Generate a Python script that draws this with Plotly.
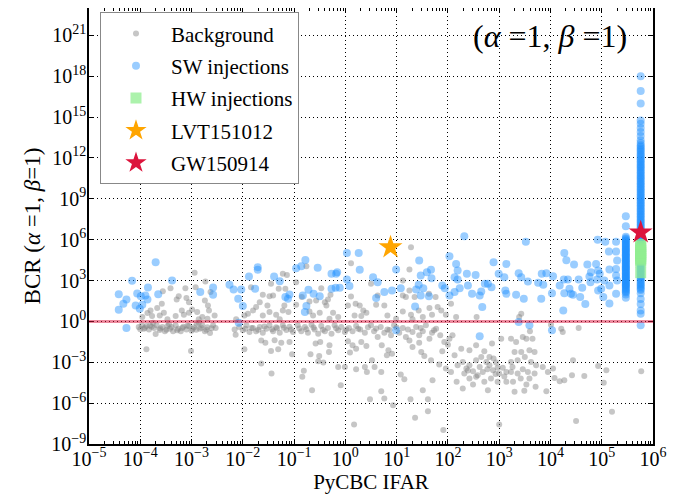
import numpy as np
import plotly.graph_objects as go

# ---------------- data (log10 values) ----------------
BG_LOG_IFAR = [
    -2.94, -3.12, -3.41, -3.56, -2.92, -2.73, -3.25, -3.29, -3.10, -2.63, -2.74, -2.68, -3.05, -3.58, -3.80,
    -3.86, -3.67, -3.62, -3.54, -3.47, -3.77, -3.19, -3.15, -3.05, -2.99, -2.89, -2.66, -2.55, -2.79, -2.86,
    -2.69, -3.31, -3.96,
    -4.03, -3.97, -3.93, -3.88, -3.83, -3.78, -3.73, -3.68, -3.62, -3.57, -3.52, -3.47, -3.42, -3.36, -3.31,
    -3.26, -3.21, -3.16, -3.10, -3.05, -3.00, -2.95, -2.90, -2.84, -2.79, -2.74, -2.69, -2.64, -2.58, -2.53,
    -3.70, -3.88, -3.01, -3.44, -3.75, -2.86,
    -4.00, -3.91, -3.81, -3.61, -3.49, -3.39, -3.28, -3.18, -3.08, -2.98, -2.91, -2.81, -2.71, -2.61,
    -1.84, -1.61, -1.45, -1.22, -1.14, -1.30, -1.17, -1.41, -1.48, -1.67, -1.52, -1.74, -1.90, -1.97, -1.80,
    -1.61, -1.48, -1.35, -1.22, -1.11, -1.19, -1.28, -2.13, -2.16, -2.14,
    -2.07, -2.00, -1.93, -1.87, -1.80, -1.74, -1.67, -1.61, -1.54, -1.48, -1.41, -1.35, -1.28, -1.22, -1.15,
    -1.09, -1.02, -1.64, -1.56, -1.97, -1.45, -1.38, -1.25, -1.09, -1.31, -1.04, -1.64, -1.44,
    -1.95, -1.83, -1.70, -1.58, -1.43, -1.33, -1.20, -1.06,
    -0.96, -0.76, -0.85, -0.96, -0.70, -0.57, -0.47, -0.40, -0.37, -0.34, -0.29, -0.50, -0.63, -0.70, -0.24,
    -0.14, -0.31, 0.05, 0.11, 0.20, 0.28, 0.35, 0.18, 0.31, 0.41, 0.11,
    -0.93, -0.86, -0.79, -0.73, -0.66, -0.60, -0.53, -0.47, -0.40, -0.34, -0.27, -0.21, -0.14, -0.08, -0.01,
    0.07, 0.14, 0.21, 0.29, 0.38, 0.44,
    -0.90, -0.76, -0.62, -0.44, -0.18, 0.02, 0.25,
    0.05, 0.14, 0.09, 0.21, 0.31, 0.41, -0.31, -0.58, -0.68, -0.51, -0.53, -0.43, -0.81, -0.84, -0.65,
    -0.32, -0.14, -0.09, -0.01, 0.21, 0.38, 0.42, 0.48, 0.17, -0.49,
    1.28, 1.25, 1.12, 0.50, 0.63, 0.76, 0.60, 1.12, 1.18, 1.25, 1.35, 1.63, 1.76, 1.80, 1.64,
    1.87, 1.96, 2.06, 1.43, 1.12, 1.28, 1.51, 1.31, 0.82, 0.99, 1.69, 2.16, 2.56,
    0.50, 0.56, 0.63, 0.69, 0.76, 0.82, 0.89, 0.95, 1.05, 1.12, 1.18, 1.25, 1.31, 1.38, 1.44,
    1.51, 1.57, 1.64, 1.69, 1.77, 1.85, 1.93, 2.03, 2.09,
    0.60, 0.86, 1.00, 1.22, 1.47, 1.73,
    1.44, 1.31, 1.48, 1.54, 1.67, 1.83, 1.89, 2.00, 0.84, 0.71, 0.81, 0.91, 0.52, 0.57, 0.70,
    1.08, 1.15, 1.70, 1.51, 1.96, 0.70, 0.76, 1.27, 1.61, 0.93, 1.61, 1.36, 1.91,
    2.19, 2.29, 2.36, 2.42, 2.49, 2.55, 2.62, 2.68, 2.75, 2.81, 2.88, 2.94, 3.00, 3.07, 3.14,
    2.32, 2.42, 2.55, 2.71, 2.84, 2.97, 2.26, 2.42, 2.55, 2.71, 2.86, 3.04, 2.81, 2.13, 2.06,
    2.17, 2.29, 2.49, 2.78, 3.00, 3.14, 2.89, 2.97, 2.65,
    2.39, 2.58, 2.77, 2.93, 3.10,
    3.43, 3.39, 3.60, 3.46, 3.53, 3.65, 3.33, 3.23, 3.30, 3.43, 3.59, 3.69, 3.50, 3.36, 3.23,
    3.62, 3.72, 3.85, 3.26, 3.46, 3.56, 3.69, 3.36, 3.23, 3.42, 3.59, 3.27, 3.53, 3.71, 3.30,
    3.49, 3.92, 3.95, 4.01, 4.21, 4.24, 4.55, 4.44, 4.05, 4.08, 4.18, 4.27, 4.42, 4.66, 4.93,
    5.09, 5.04, 5.20, 4.50, 5.77,
]
BG_LOG_BCR = [
    3.56, 2.44, 2.44, 2.22, 2.51, 2.93, 1.85, 1.61, 1.71, 2.15, 1.54, 1.17, 1.41, 1.29, 0.80,
    0.61, 0.98, 0.44, 0.63, 0.15, 0.39, 0.80, 0.49, 0.63, 0.88, 0.68, 0.80, 0.44, 0.32, 0.15,
    0.20, 0.39, 0.32,
    -0.41, -0.29, -0.54, -0.34, -0.59, -0.39, -0.49, -0.29, -0.63, -0.41, -0.73, -0.34, -0.54, -0.73, -0.29,
    -0.54, -0.73, -0.39, -0.59, -0.34, -0.68, -0.44, -0.20, -0.54, -0.29, -0.73, -0.44, -0.85, -0.29, -0.49,
    -0.93, -2.05, -2.17, -0.20, -0.10, -0.10,
    -0.57, -0.46, -0.31, -0.52, -0.61, -0.42, -0.66, -0.48, -0.33, -0.56, -0.62, -0.46, -0.61, -0.51,
    2.51, 1.95, 2.76, 3.49, 3.41, 2.39, 2.39, 1.90, 1.85, 1.41, 1.17, 1.05, 0.56, 0.44, 0.80,
    0.44, 0.68, 0.49, 0.80, 0.68, 1.17, 0.15, 0.15, -0.59, -0.98,
    -0.41, -0.66, -0.29, -0.78, -0.49, -0.73, -0.41, -0.83, -0.54, -0.29, -0.73, -0.44, -0.83, -0.29, -0.63,
    -0.39, -0.78, -1.41, -1.56, -2.05, -2.17, -1.39, -1.56, -1.51, -2.05, -2.41, -3.10, -3.83,
    -0.55, -0.48, -0.62, -0.37, -0.58, -0.51, -0.47, -0.60,
    2.88, 4.05, 1.78, 1.22, 1.46, 1.54, 2.44, 1.41, 1.17, 1.61, 1.95, 0.63, 0.44, 0.73, 0.63,
    0.32, 0.20, 1.17, 1.83, 1.29, 1.17, 0.80, 0.44, 0.39, 0.63, 4.27,
    -0.29, -0.73, -0.41, -0.83, -0.24, -0.59, -0.90, -0.34, -0.73, -0.49, -0.90, -0.29, -0.66, -0.41, -0.78,
    -0.49, -0.73, -0.34, -0.59, -0.83, -0.44,
    -0.52, -0.57, -0.45, -0.62, -0.50, -0.60, -0.55,
    -1.46, -1.76, -2.29, -2.00, -1.51, -1.80, -1.76, -1.63, -2.41, -2.54, -2.93, -3.02, -3.63, -4.07, -5.05,
    -2.24, -3.34, -4.68, -3.34, -3.51, -3.34, -3.71, -5.71, -7.56, -1.51,
    5.44, 3.80, 3.00, 2.76, 1.90, 1.17, 1.22, 1.90, 1.78, 2.27, 1.78, 2.02, 1.78, 1.05, 0.98,
    0.80, 0.49, 1.29, 0.80, 0.73, 0.49, 0.32, 0.15, 0.44, 0.20, 0.49, 0.32, 0.32,
    -0.29, -0.73, -1.15, -0.41, -0.83, -0.59, -1.02, -0.29, -0.83, -0.49, -1.15, -1.41, -0.78, -0.41, -1.02,
    -0.73, -0.29, -1.27, -0.83, -0.54, -1.02, -1.51, -1.27, -1.02,
    -0.52, -0.63, -0.45, -0.60, -0.48, -0.66,
    -1.56, -1.88, -2.24, -2.54, -2.85, -3.17, -2.20, -1.71, -2.12, -1.76, -2.49, -2.37, -2.85, -3.34, -3.71,
    -3.90, -4.24, -4.32, -5.05, -3.46, -5.12, -5.66, -5.71, -5.71, -6.15, -6.59, -7.07, -7.98,
    -3.22, -2.98, -3.46, -3.22, -3.66, -2.85, -3.34, -3.71, -2.98, -3.22, -3.59, -3.02, -3.83, -3.41, -3.71,
    -3.83, -4.20, -4.07, -4.44, -4.20, -4.44, -2.00, -2.12, -1.76, -2.20, -1.63, -1.27, -2.61, -2.49, -3.71,
    -4.44, -4.93, -4.63, -5.05, -7.56, -4.44, -2.73, -3.41, -2.61,
    -3.60, -3.95, -3.52, -3.87, -4.05,
    0.56, 0.32, -0.73, -1.15, -1.27, -1.27, -1.51, -1.27, -2.24, -2.24, -2.12, -2.24, -2.61, -2.85, -2.98,
    -2.98, -3.22, -3.34, -3.34, -3.51, -3.71, -3.83, -3.83, -3.71, -4.20, -4.20, -4.44, -4.63, -4.80, -5.17,
    -5.10, -5.12, -3.71, -0.24, -0.54, -0.78, -0.49, -2.85, -3.46, -4.15, -4.39, -4.32, -3.95, -4.00, -3.27,
    -3.59, -4.51, -6.63, -7.32, -3.66,
]

SW_LOG_IFAR = [
    -3.70, -4.16, -4.42, -4.27, -4.33, -4.42, -4.06, -4.09, -3.99, -3.90, -3.85, -3.86, -3.96, -4.01, -3.65,
    -4.27, -3.38, -2.83, -2.58, -2.58,
    -2.26, -2.18, -2.03, -2.09, -2.00, -2.08, -1.88, -1.71, -1.71, -1.76, -1.39, -1.28, -1.17, -1.09, -1.12,
    -0.96, -0.86, -0.78, -0.54, -0.83, -0.72, -0.62, -0.50, -0.76, -0.79, -0.27, -0.18, -0.16, -0.27, -0.19,
    -0.11, 0.03, 0.26, 0.28, 0.03, 0.08,
    0.54, 0.63, 0.60, 0.76, 0.91, 0.99, 1.08, 0.99, 1.44, 1.38, 1.36, 1.47, 1.43, 1.52, 1.59,
    1.67, 1.68, 1.47, 1.63, 1.89, 1.94, 2.03, 2.32, 2.16, 2.19, 2.13, 2.19, 2.23, 2.13, 2.03,
    2.37, 2.54, 2.39, 2.47, 2.62, 2.65, 2.72, 2.78, 2.85, 2.67, 2.89, 2.99, 3.14, 3.10, 3.12,
    3.14, 2.62,
    3.52, 3.38, 3.43, 3.56, 3.33, 3.48, 3.76, 3.86, 3.83, 3.92, 4.05, 3.82, 4.03, 4.18, 4.27,
    4.31, 4.46, 4.26, 4.34, 4.37, 4.27, 4.40, 4.44, 4.58, 4.68, 4.55, 4.62, 4.72, 4.76, 4.79,
    4.78, 4.89, 4.93, 4.91, 4.96, 4.93, 4.99, 4.92, 5.07, 5.05, 5.03, 5.14, 5.15, 5.15, 5.15,
    5.28, 5.28, 5.30, 5.28, 5.28, 5.30, 5.28, 4.25, 3.38, 3.59, 4.03,
]
SW_LOG_BCR = [
    4.34, 2.98, 2.00, 1.61, 1.29, 0.85, 2.05, 1.17, 1.85, 1.90, 2.49, 1.61, 1.22, 0.93, 2.00,
    -0.49, 3.00, 2.15, 2.49, 1.95,
    2.68, 2.34, 2.34, 1.66, 1.12, -0.10, 3.29, 3.98, 3.78, 2.39, 3.29, 2.95, 1.78, 1.98, 1.66,
    3.90, 4.05, 4.51, 3.93, 1.90, 2.32, 2.02, 1.85, 1.12, 0.68, 3.49, 3.49, 3.61, 2.39, 2.46,
    2.46, 5.02, 5.02, 3.78, 3.07, 2.59,
    3.24, 2.88, 1.71, 2.15, 2.27, 3.80, 2.44, -0.66, 4.46, 2.34, 1.10, 3.37, 2.68, 2.44, 3.61,
    3.78, 3.17, 1.90, 1.85, 2.63, 2.44, 4.78, 6.24, 4.22, 3.73, 3.24, 3.07, 2.44, 2.15, 1.90,
    3.49, 3.41, 2.63, 2.02, 1.90, 2.20, 2.76, 2.76, 2.51, 1.05, 4.34, 3.49, 4.22, 3.24, 2.27,
    2.02, -1.10,
    5.85, 3.54, 3.24, 2.93, 1.95, 1.66, 2.83, 2.68, 3.49, 3.54, 3.32, 1.66, 2.07, 2.63, 5.02,
    4.49, 4.17, 3.07, 3.07, 2.39, 2.07, 2.02, 1.95, 1.78, 1.27, 3.07, 2.46, 4.17, 3.29, 3.61,
    2.88, 4.22, 3.73, 3.07, 3.49, 2.27, 2.39, 6.00, 5.85, 3.00, 1.78, 5.12, 3.80, 2.63, 1.32,
    5.85, 5.12, 4.46, 3.85, 3.37, 3.00, 2.02, 0.80, -0.05, -0.29, -0.66,
]

# injections piled up at the two largest IFAR values
SW_COL1_LOG_IFAR = 5.47
SW_COL1_LOG_BCR = [7.72, 6.98, 6.21, 6.11, 6.03, 5.94, 5.88, 5.79, 5.70, 5.62, 5.55, 5.47, 5.38, 5.31, 5.24,
                   5.18, 5.09, 5.02, 4.93, 4.86, 4.80, 4.73, 4.64, 4.55, 4.48, 4.41, 4.33, 4.27, 4.18, 4.09,
                   4.02, 3.96, 3.88, 3.82, 3.73, 3.64, 3.57, 3.51, 3.42, 3.33, 3.27, 3.22, 3.13, 3.05, 2.97,
                   2.91, 2.82, 2.74, 2.68, 2.63, 2.55, 2.47, 2.38, 2.28, 2.20, 2.12, 1.97, 1.73]
SW_COL2_LOG_IFAR = 5.76
SW_COL2_LOG_BCR = [18.0, 16.9, 16.0, 14.75, 14.5, 14.2, 13.9, 13.6, 13.3, 13.1,
                   12.92, 12.81, 12.68, 12.57, 12.46, 12.33, 12.22, 12.11, 11.98, 11.87, 11.76, 11.64,
                   11.52, 11.41, 11.29, 11.18, 11.06, 10.95, 10.83, 10.71, 10.60, 10.48, 10.37, 10.25,
                   10.14, 10.02, 9.91, 9.79, 9.68, 9.56, 9.44, 9.33, 9.21, 9.10, 8.98, 8.87, 8.75,
                   8.64, 8.52, 8.41, 8.29, 8.17, 8.06, 7.94, 7.83, 7.71, 7.60, 7.48, 7.37, 7.25,
                   7.13, 7.02, 6.90, 6.79, 6.67, 6.56, 6.44, 6.33, 6.21, 6.10, 5.98, 5.86, 5.75,
                   5.63, 5.52, 5.40, 5.29, 5.17, 5.06, 4.94, 4.83, 4.71, 4.59, 4.48, 4.36, 4.25,
                   4.13, 4.02, 3.90, 3.79, 3.67, 3.55, 3.44, 3.32, 3.21, 3.09, 2.98, 2.86, 2.75,
                   2.63, 2.52, 2.40, 2.30, 2.07, 1.65, 1.28, 0.80, 0.56, -0.29]

HW_LOG_IFAR = 5.76
HW_LOG_BCR = [3.57, 4.35, 4.50, 4.62, 4.78, 4.90, 5.05, 5.20, 5.33, 5.50, 5.65]

LVT_IFAR, LVT_BCR = 7.6, 10 ** 5.44
GW_IFAR, GW_BCR = 10 ** 5.76, 10 ** 6.53
BCR_THRESHOLD = 1.0

X_TICK_EXP = list(range(-5, 7))
Y_TICK_EXP = list(range(-9, 22, 3))

# ---------------- figure ----------------
FONT = "Liberation Serif"
p10 = lambda a: np.power(10.0, np.asarray(a, dtype=float))


def pow_label(k):
    s = str(k).replace("-", "\u2212")
    return f"10<sup>{s}</sup>"


fig = go.Figure()
fig.add_trace(go.Scatter(
    x=p10(BG_LOG_IFAR), y=p10(BG_LOG_BCR), mode="markers", name="Background",
    marker=dict(color="rgba(128,128,128,0.45)", size=6, line=dict(width=0)),
    legendgroup="a"))
sw_x = list(p10(SW_LOG_IFAR)) + [10 ** SW_COL1_LOG_IFAR] * len(SW_COL1_LOG_BCR) + \
    [10 ** SW_COL2_LOG_IFAR] * len(SW_COL2_LOG_BCR)
sw_y = list(p10(SW_LOG_BCR)) + list(p10(SW_COL1_LOG_BCR)) + list(p10(SW_COL2_LOG_BCR))
fig.add_trace(go.Scatter(
    x=sw_x, y=sw_y, mode="markers", name="SW injections",
    marker=dict(color="rgba(30,144,255,0.45)", size=8, line=dict(width=0)),
    legendgroup="b"))
fig.add_trace(go.Scatter(
    x=[10 ** HW_LOG_IFAR] * len(HW_LOG_BCR), y=p10(HW_LOG_BCR), mode="markers", name="HW injections",
    marker=dict(color="rgba(144,238,144,0.75)", size=11, symbol="square", line=dict(width=0)),
    legendgroup="c"))
fig.add_trace(go.Scatter(
    x=[LVT_IFAR], y=[LVT_BCR], mode="markers", name="LVT151012",
    marker=dict(color="orange", size=18, symbol="star", line=dict(width=0)),
    legendgroup="d"))
fig.add_trace(go.Scatter(
    x=[GW_IFAR], y=[GW_BCR], mode="markers", name="GW150914",
    marker=dict(color="crimson", size=18, symbol="star", line=dict(width=0)),
    legendgroup="e"))

fig.add_shape(type="line", xref="paper", x0=0, x1=1, yref="y", y0=BCR_THRESHOLD, y1=BCR_THRESHOLD,
              line=dict(color="rgba(220,20,60,0.5)", width=3), layer="above")

fig.add_annotation(text="(<i>α</i> =1, <i>β</i> =1)", xref="paper", yref="paper",
                   x=0.958, y=0.935, xanchor="right", yanchor="middle", showarrow=False,
                   font=dict(family=FONT, size=32, color="black"))

axis_common = dict(
    type="log", showline=True, linecolor="black", linewidth=1.5, mirror="ticks",
    ticks="inside", tickcolor="black", ticklen=5, tickwidth=1,
    showgrid=True, gridcolor="black", gridwidth=1, griddash="1px,3px",
    tickfont=dict(family=FONT, size=20, color="black"),
    zeroline=False, automargin=False, tickmode="array",
)
fig.update_xaxes(**axis_common, range=[-5, 6], ticklabelstandoff=-4,
                 tickvals=[10.0 ** k for k in X_TICK_EXP], ticktext=[pow_label(k) for k in X_TICK_EXP],
                 minor=dict(ticks="inside", ticklen=3, tickcolor="black", dtick="D1", showgrid=False),
                 title=dict(text="PyCBC IFAR", font=dict(family=FONT, size=21, color="black"), standoff=0))
fig.update_yaxes(**axis_common, range=[-9, 23], ticklabelstandoff=-3,
                 tickvals=[10.0 ** k for k in Y_TICK_EXP], ticktext=[pow_label(k) for k in Y_TICK_EXP],
                 title=dict(text="BCR (<i>α</i> =1, <i>β</i>=1)", font=dict(family=FONT, size=23, color="black"),
                            standoff=4))

# the page adds an 8 px body margin, so the margins below are offset by it
fig.update_layout(
    width=683, height=495, margin=dict(l=81, r=38, t=0, b=59),
    paper_bgcolor="white", plot_bgcolor="white",
    font=dict(family=FONT, color="black"),
    legend=dict(x=0.0195, y=0.99, xanchor="left", yanchor="top",
                bgcolor="white", bordercolor="#888888", borderwidth=1,
                font=dict(family=FONT, size=21, color="black"),
                itemwidth=60, tracegroupgap=2),
    showlegend=True,
)
fig.write_html("out.html")
